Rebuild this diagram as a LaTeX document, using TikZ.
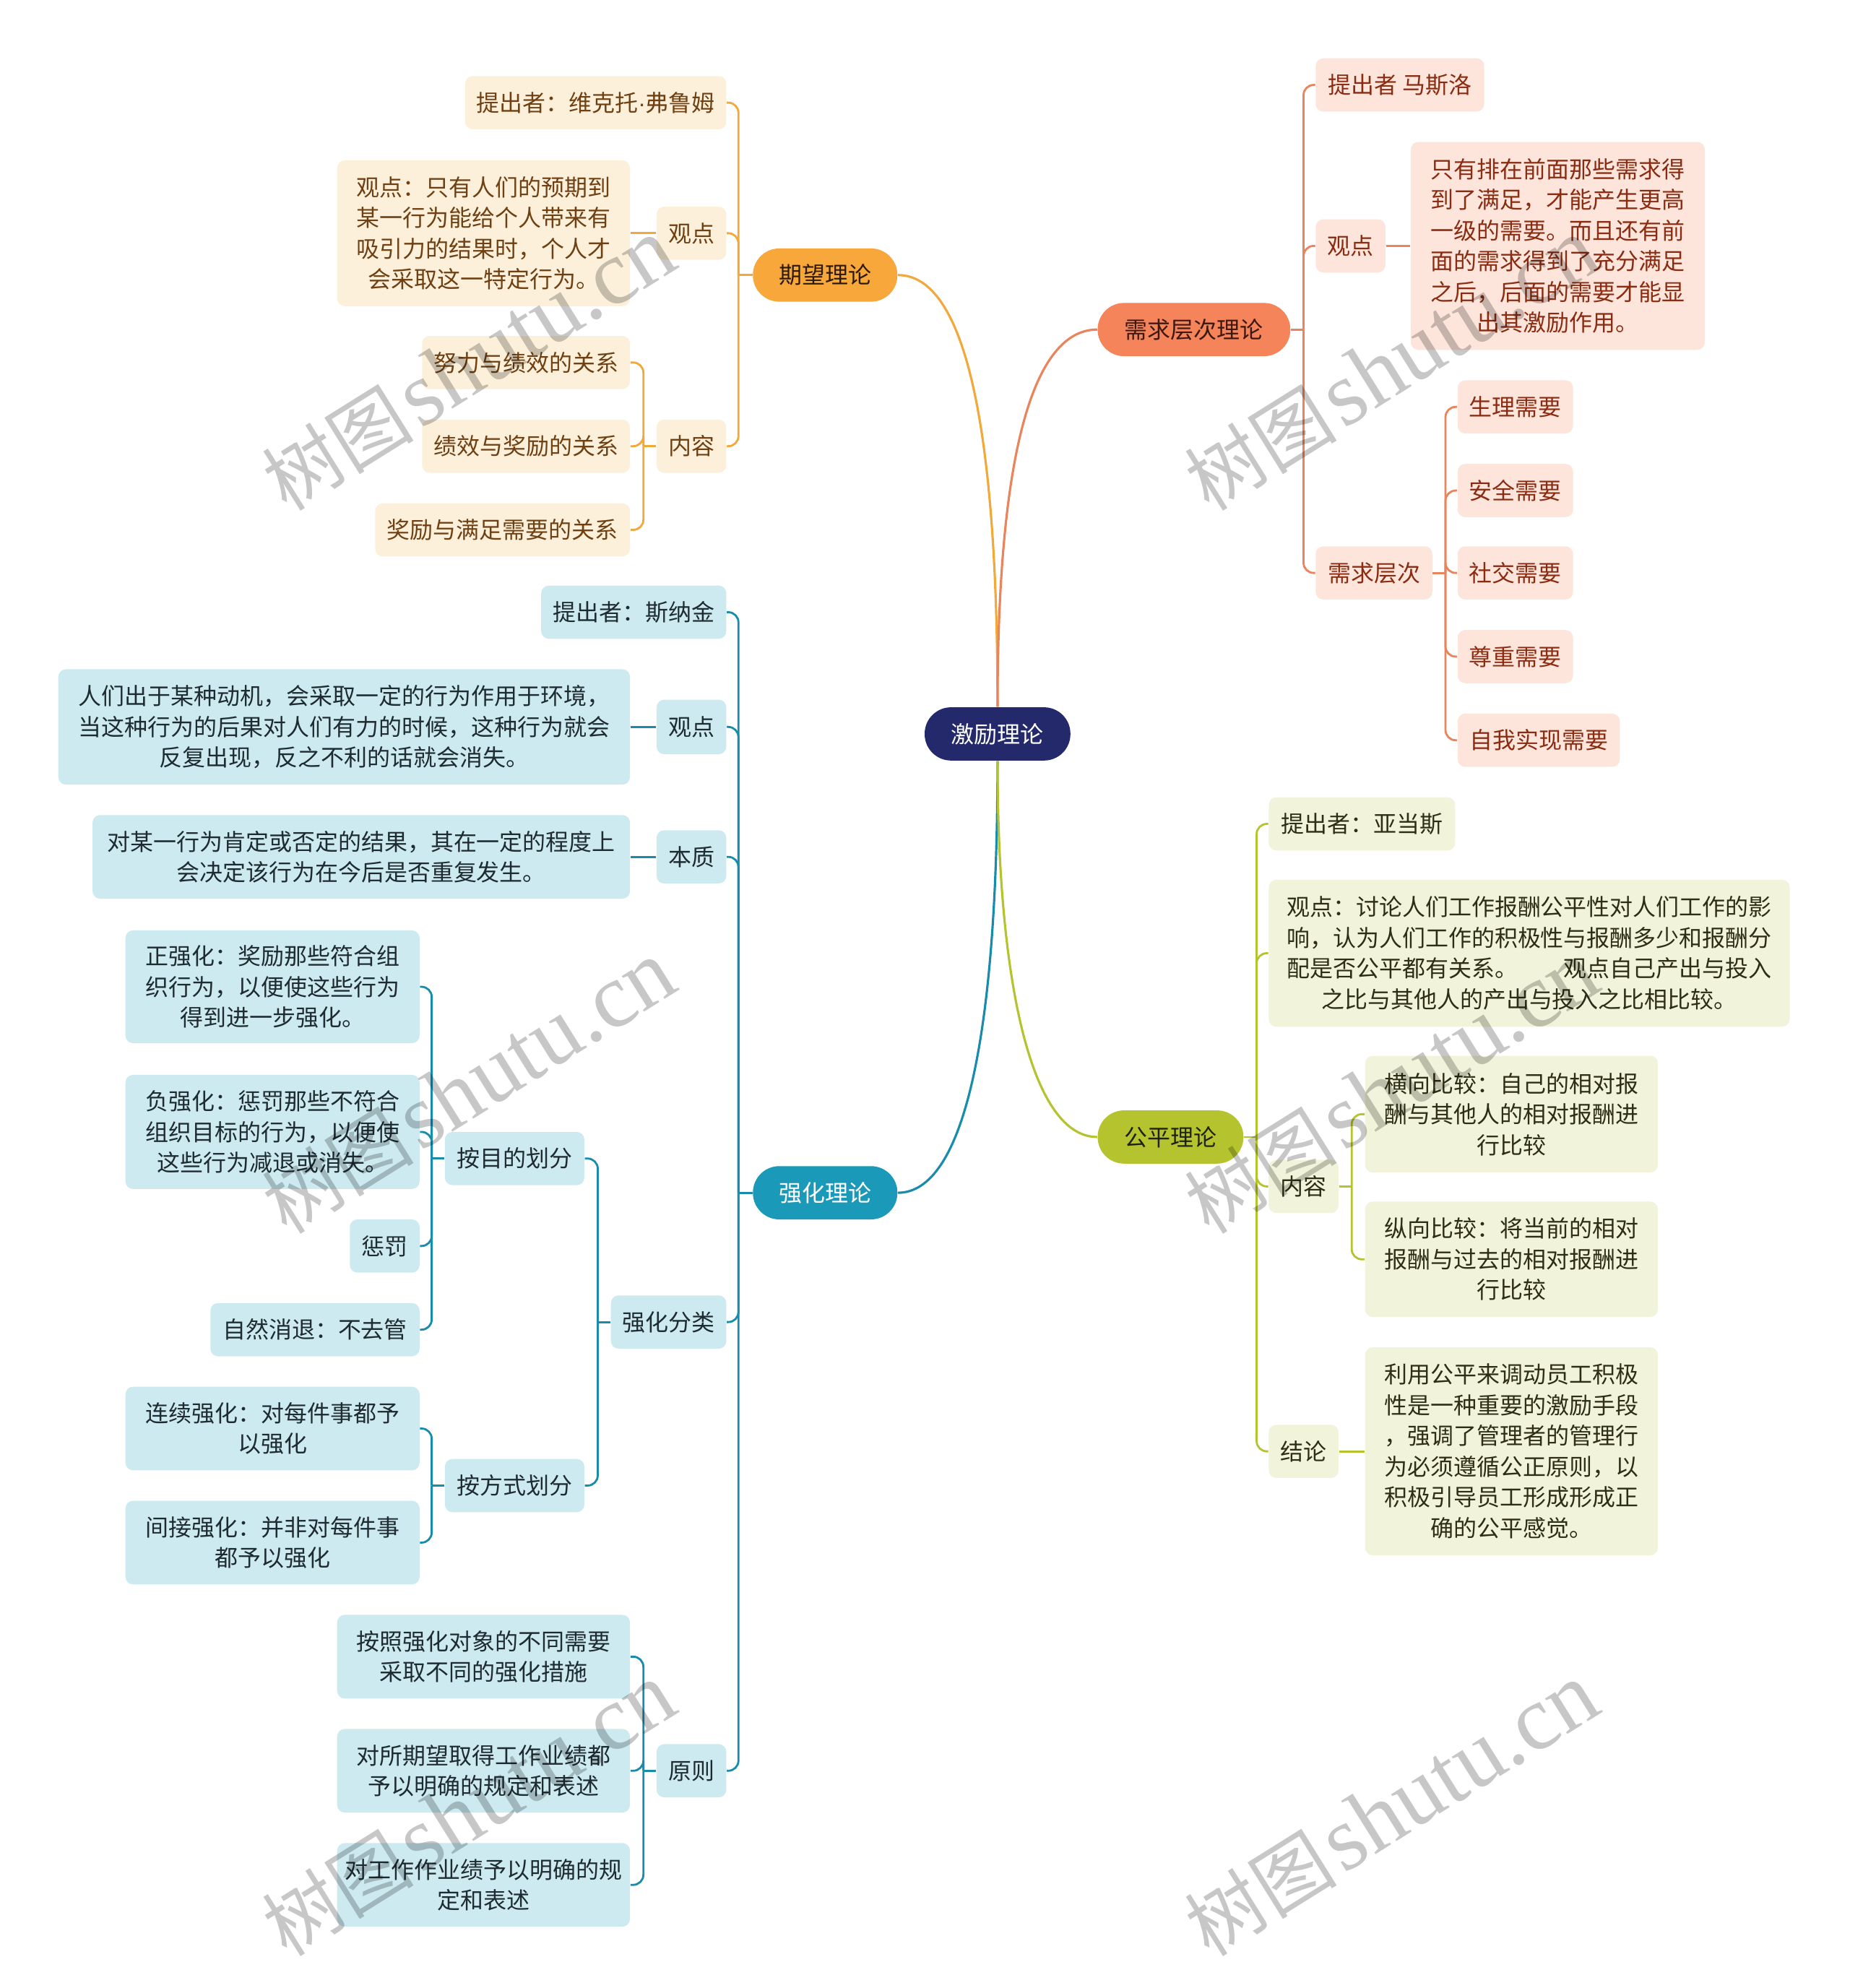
\documentclass[tikz,border=0pt]{standalone}
\usepackage{fontspec}
\setmainfont{Noto Sans CJK SC}
\newfontfamily\wmlatin{Liberation Serif}
\newfontfamily\wmcjk{Noto Sans CJK SC}
\newfontfamily\narrowdot{Liberation Sans}
\usetikzlibrary{calc}
\def\shu{0.017546cm}
\definecolor{rootc}{HTML}{23296B}
\definecolor{omainc}{HTML}{F8A83A}
\definecolor{oleafc}{HTML}{FDF0DB}
\definecolor{olinec}{HTML}{F2A93B}
\definecolor{oleaftxt}{HTML}{6E4012}
\definecolor{omaintxt}{HTML}{2B1A08}
\definecolor{rmainc}{HTML}{F5845A}
\definecolor{rleafc}{HTML}{FDE5DB}
\definecolor{rlinec}{HTML}{E9845C}
\definecolor{rleaftxt}{HTML}{8A2C12}
\definecolor{rmaintxt}{HTML}{3B1810}
\definecolor{gmainc}{HTML}{B5C42E}
\definecolor{gleafc}{HTML}{F1F4DA}
\definecolor{glinec}{HTML}{B5C42E}
\definecolor{gleaftxt}{HTML}{2E2E16}
\definecolor{gmaintxt}{HTML}{1F2210}
\definecolor{tmainc}{HTML}{1A9AB8}
\definecolor{tleafc}{HTML}{CDEAF1}
\definecolor{tlinec}{HTML}{1A8CAB}
\definecolor{tleaftxt}{HTML}{1E2B30}
\tikzset{
  nbase/.style={inner sep=0pt, align=center, font=\fontsize{9.1}{12.1}\selectfont},
  boxsz/.style 2 args={minimum width=#1*\shu, minimum height=#2*\shu},
  pill/.style={nbase, rounded corners=0.365cm},
  leafbox/.style={nbase, rounded corners=3pt},
  rootnode/.style={pill, fill=rootc, text=white},
  omain/.style={pill, fill=omainc, text=omaintxt},
  oleaf/.style={leafbox, fill=oleafc, text=oleaftxt},
  olink/.style={draw=olinec, line width=0.8pt, rounded corners=4pt},
  rmain/.style={pill, fill=rmainc, text=rmaintxt},
  rleaf/.style={leafbox, fill=rleafc, text=rleaftxt},
  rlink/.style={draw=rlinec, line width=0.8pt, rounded corners=4pt},
  gmain/.style={pill, fill=gmainc, text=gmaintxt},
  gleaf/.style={leafbox, fill=gleafc, text=gleaftxt},
  glink/.style={draw=glinec, line width=0.8pt, rounded corners=4pt},
  tmain/.style={pill, fill=tmainc, text=white},
  tleaf/.style={leafbox, fill=tleafc, text=tleaftxt},
  tlink/.style={draw=tlinec, line width=0.8pt, rounded corners=4pt},
  mainlink/.style={line width=0.9pt},
  wmark/.style={rotate=32, text=black, text opacity=0.22, inner sep=0pt}
}
\begin{document}
\begin{tikzpicture}[x=0.017546cm, y=-0.017546cm]
\fill[white] (0,0) rectangle (1459,1568.4);
\useasboundingbox (0,0) rectangle (1459,1568.4);

% root
\node[rootnode, boxsz={115}{42}] (root) at (787,579) {激励理论};

% ===== orange branch
\node[omain, boxsz={114}{42}] (oq) at (651,217) {期望理论};
\node[oleaf, boxsz={206}{42}] (o1) at (470,81) {提出者：维克托{\narrowdot ·}弗鲁姆};
\node[oleaf, boxsz={55}{42}] (o2) at (545.5,184) {观点};
\node[oleaf, boxsz={231}{115}] (o2a) at (381.5,184) {观点：只有人们的预期到\\某一行为能给个人带来有\\吸引力的结果时，个人才\\会采取这一特定行为。};
\node[oleaf, boxsz={55}{42}] (o3) at (545.5,352) {内容};
\node[oleaf, boxsz={164}{42}] (o3a) at (415,286) {努力与绩效的关系};
\node[oleaf, boxsz={164}{42}] (o3b) at (415,352) {绩效与奖励的关系};
\node[oleaf, boxsz={201}{42}] (o3c) at (396.5,418) {奖励与满足需要的关系};

\coordinate (oqs) at ($(oq.west)+(-11,0)$);
\draw[olink] (oq.west) -- (oqs);
\foreach \c in {o1,o2,o3} \draw[olink] (oqs) |- (\c.east);
\draw[olink] (o2.west) -- (o2a.east);
\coordinate (o3s) at ($(o3.west)+(-10,0)$);
\draw[olink] (o3.west) -- (o3s);
\foreach \c in {o3a,o3b,o3c} \draw[olink] (o3s) |- (\c.east);

% ===== red branch
\node[rmain, boxsz={152}{42}] (rq) at (942,260) {需求层次理论};
\node[rleaf, boxsz={133}{42}] (r1) at (1104.5,67) {提出者 马斯洛};
\node[rleaf, boxsz={55}{42}] (r2) at (1065.5,194) {观点};
\node[rleaf, boxsz={232}{164}] (r2a) at (1229,194) {只有排在前面那些需求得\\到了满足，才能产生更高\\一级的需要。而且还有前\\面的需求得到了充分满足\\之后，后面的需要才能显\\出其激励作用。};
\node[rleaf, boxsz={92}{42}] (r3) at (1084,452) {需求层次};
\node[rleaf, boxsz={91}{42}] (r3a) at (1195.5,321) {生理需要};
\node[rleaf, boxsz={91}{42}] (r3b) at (1195.5,387) {安全需要};
\node[rleaf, boxsz={91}{42}] (r3c) at (1195.5,452) {社交需要};
\node[rleaf, boxsz={91}{42}] (r3d) at (1195.5,518) {尊重需要};
\node[rleaf, boxsz={128}{42}] (r3e) at (1214,584) {自我实现需要};

\coordinate (rqs) at ($(rq.east)+(10,0)$);
\draw[rlink] (rq.east) -- (rqs);
\foreach \c in {r1,r2,r3} \draw[rlink] (rqs) |- (\c.west);
\draw[rlink] (r2.east) -- (r2a.west);
\coordinate (r3s) at ($(r3.east)+(10,0)$);
\draw[rlink] (r3.east) -- (r3s);
\foreach \c in {r3a,r3b,r3c,r3d,r3e} \draw[rlink] (r3s) |- (\c.west);

% ===== green branch
\node[gmain, boxsz={115}{42}] (gq) at (923.5,897) {公平理论};
\node[gleaf, boxsz={147}{42}] (g1) at (1074.5,650) {提出者：亚当斯};
\node[gleaf, boxsz={411}{116}] (g2) at (1206.5,752) {观点：讨论人们工作报酬公平性对人们工作的影\\响，认为人们工作的积极性与报酬多少和报酬分\\配是否公平都有关系。\hspace{2em}观点自己产出与投入\\之比与其他人的产出与投入之比相比较。};
\node[gleaf, boxsz={55}{42}] (g3) at (1028.5,936) {内容};
\node[gleaf, boxsz={231}{92}] (g3a) at (1192.5,879) {横向比较：自己的相对报\\酬与其他人的相对报酬进\\行比较};
\node[gleaf, boxsz={231}{91}] (g3b) at (1192.5,993.5) {纵向比较：将当前的相对\\报酬与过去的相对报酬进\\行比较};
\node[gleaf, boxsz={55}{42}] (g4) at (1028.5,1145) {结论};
\node[gleaf, boxsz={231}{164}] (g4a) at (1192.5,1145) {利用公平来调动员工积极\\性是一种重要的激励手段\\，强调了管理者的管理行\\为必须遵循公正原则，以\\积极引导员工形成形成正\\确的公平感觉。};

\coordinate (gqs) at ($(gq.east)+(10,0)$);
\draw[glink] (gq.east) -- (gqs);
\foreach \c in {g1,g2,g3,g4} \draw[glink] (gqs) |- (\c.west);
\coordinate (g3s) at ($(g3.east)+(10,0)$);
\draw[glink] (g3.east) -- (g3s);
\foreach \c in {g3a,g3b} \draw[glink] (g3s) |- (\c.west);
\draw[glink] (g4.east) -- (g4a.west);

% ===== teal branch
\node[tmain, boxsz={114}{42}] (tq) at (651,941) {强化理论};
\node[tleaf, boxsz={146}{42}] (t1) at (500,483) {提出者：斯纳金};
\node[tleaf, boxsz={55}{43}] (t2) at (545.5,573.5) {观点};
\node[tleaf, boxsz={451}{91}] (t2a) at (271.5,573.5) {人们出于某种动机，会采取一定的行为作用于环境，\\当这种行为的后果对人们有力的时候，这种行为就会\\反复出现，反之不利的话就会消失。};
\node[tleaf, boxsz={55}{42}] (t3) at (545.5,676) {本质};
\node[tleaf, boxsz={424}{66}] (t3a) at (285,676) {对某一行为肯定或否定的结果，其在一定的程度上\\会决定该行为在今后是否重复发生。};
\node[tleaf, boxsz={91}{42}] (t4) at (527.5,1043) {强化分类};
\node[tleaf, boxsz={110}{42}] (t4a) at (406,914) {按目的划分};
\node[tleaf, boxsz={232}{89}] (t4a1) at (215,778.5) {正强化：奖励那些符合组\\织行为，以便使这些行为\\得到进一步强化。};
\node[tleaf, boxsz={232}{90}] (t4a2) at (215,893) {负强化：惩罚那些不符合\\组织目标的行为，以便使\\这些行为减退或消失。};
\node[tleaf, boxsz={55}{42}] (t4a3) at (303.5,983) {惩罚};
\node[tleaf, boxsz={165}{42}] (t4a4) at (248.5,1049) {自然消退：不去管};
\node[tleaf, boxsz={110}{42}] (t4b) at (406,1172) {按方式划分};
\node[tleaf, boxsz={232}{66}] (t4b1) at (215,1127) {连续强化：对每件事都予\\以强化};
\node[tleaf, boxsz={232}{66}] (t4b2) at (215,1217) {间接强化：并非对每件事\\都予以强化};
\node[tleaf, boxsz={55}{42}] (t5) at (545.5,1397) {原则};
\node[tleaf, boxsz={231}{66}] (t5a) at (381.5,1307) {按照强化对象的不同需要\\采取不同的强化措施};
\node[tleaf, boxsz={231}{66}] (t5b) at (381.5,1397) {对所期望取得工作业绩都\\予以明确的规定和表述};
\node[tleaf, boxsz={231}{66}] (t5c) at (381.5,1487) {对工作作业绩予以明确的规\\定和表述};

\coordinate (tqs) at ($(tq.west)+(-11,0)$);
\draw[tlink] (tq.west) -- (tqs);
\foreach \c in {t1,t2,t3,t4,t5} \draw[tlink] (tqs) |- (\c.east);
\draw[tlink] (t2.west) -- (t2a.east);
\draw[tlink] (t3.west) -- (t3a.east);
\coordinate (t4s) at ($(t4.west)+(-10,0)$);
\draw[tlink] (t4.west) -- (t4s);
\foreach \c in {t4a,t4b} \draw[tlink] (t4s) |- (\c.east);
\coordinate (t4as) at ($(t4a.west)+(-10,0)$);
\draw[tlink] (t4a.west) -- (t4as);
\foreach \c in {t4a1,t4a2,t4a3,t4a4} \draw[tlink] (t4as) |- (\c.east);
\coordinate (t4bs) at ($(t4b.west)+(-10,0)$);
\draw[tlink] (t4b.west) -- (t4bs);
\foreach \c in {t4b1,t4b2} \draw[tlink] (t4bs) |- (\c.east);
\coordinate (t5s) at ($(t5.west)+(-10,0)$);
\draw[tlink] (t5.west) -- (t5s);
\foreach \c in {t5a,t5b,t5c} \draw[tlink] (t5s) |- (\c.east);

% ===== main connectors
\draw[olink, mainlink] (oq.east) .. controls (760,217) and (787,330) .. (root.north);
\draw[rlink, mainlink] (rq.west) .. controls (820,260) and (787,340) .. (root.north);
\draw[tlink, mainlink] (tq.east) .. controls (760,941) and (787,820) .. (root.south);
\draw[glink, mainlink] (gq.west) .. controls (815,897) and (787,780) .. (root.south);

% ===== watermarks
\foreach \n/\px/\py in {wm1/370/288, wm2/1098/288, wm3/370/858, wm4/1098/858, wm5/370/1428, wm6/1098/1428}
  \node[wmark] (\n) at (\px,\py) {{\wmcjk\fontsize{30}{30}\selectfont 树图} {\wmlatin\fontsize{36}{36}\selectfont shutu.cn}};
\end{tikzpicture}
\end{document}
